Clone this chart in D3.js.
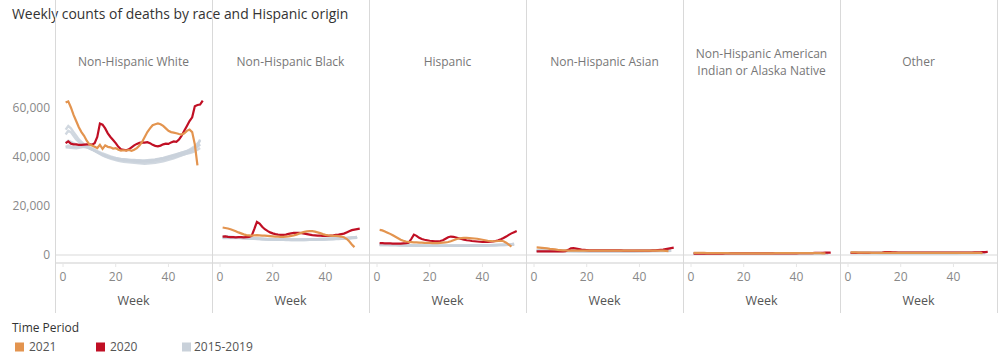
<!DOCTYPE html>
<html>
<head>
<meta charset="utf-8">
<script src="https://cdn.jsdelivr.net/npm/d3@7"></script>
<style>
  body { margin: 0; background: #fff; }
  svg text { font-family: "Open Sans", "Noto Sans", sans-serif; }
</style>
</head>
<body>
<svg width="1000" height="361"></svg>
<script>
// ---- data (weekly death counts) ----
var races = ["Non-Hispanic White", "Non-Hispanic Black", "Hispanic", "Non-Hispanic Asian",
             "Non-Hispanic American Indian or Alaska Native", "Other"];
var periods = ["2021", "2020", "2015-2019"];
var colors = ["#e3944f", "#c00f24", "#c9d1da"];
var yTicks = [0, 20000, 40000, 60000];
var xTicks = [0, 20, 40];

var white21 = [62000,62500,60000,57000,54500,52000,50000,48500,46500,45000,44500,44000,43500,44800,43200,44600,44000,43800,43300,43500,
  42800,42500,42600,42500,42700,42400,42800,43500,44500,46000,48000,50000,51500,52800,53200,53500,53200,52500,51500,50500,
  50000,49800,49500,49200,49000,49500,50500,51000,50000,45000,36500];
var white20 = [45500,46200,45300,45000,45000,44800,44800,44900,45000,45000,44900,45500,48000,53500,53000,51500,49500,48000,46800,45500,
  44000,43000,42800,42600,43000,43800,44600,45200,45600,45800,45700,45900,45500,44800,44400,44200,44500,45000,45300,45200,
  45800,46200,46000,47000,48500,50500,52500,54500,56000,60500,61000,61200,62800];
var whiteBase = [
  [49000,50500,50000,48500,47000,46000,45000,44500,44000,43500,43000,42500,42000,41300,40700,40200,39800,39500,39200,38900,
   38700,38500,38400,38300,38200,38100,38000,37900,37800,37700,37700,37800,37900,38000,38100,38300,38500,38700,38900,39200,
   39400,39700,40000,40300,40600,40900,41200,41500,41800,42200,42800,43500],
  [43800,43700,43600,43500,43400,43600,43800,44000,43800,43500,43000,42400,41800,41300,40800,40300,40000,39700,39400,39200,
   39000,38900,38800,38700,38600,38500,38400,38400,38300,38200,38200,38300,38400,38500,38700,38900,39100,39300,39500,39800,
   40100,40400,40700,41000,41300,41600,42000,42400,42900,43500,44200,45000],
  [45500,46500,46000,45500,45000,44500,44200,44000,43800,43400,42900,42400,41900,41400,40900,40500,40100,39800,39500,39300,
   39100,38900,38800,38700,38600,38500,38500,38400,38400,38300,38300,38400,38500,38600,38700,38900,39100,39300,39600,39900,
   40200,40500,40800,41200,41600,42000,42400,42900,43500,44300,45300,46500],
  [51000,52500,51500,50000,48500,47000,46000,45000,44200,43500,42900,42300,41700,41100,40500,40000,39600,39200,38900,38600,
   38300,38100,37900,37800,37700,37600,37500,37400,37300,37200,37100,37200,37300,37400,37500,37700,37900,38100,38400,38700,
   39000,39300,39700,40100,40500,40900,41300,41700,42300,43100,44000,45000],
  [44000,44500,44200,44000,44000,44200,44500,44500,44300,43900,43400,42900,42300,41800,41300,40900,40500,40100,39800,39500,
   39300,39100,39000,38900,38800,38700,38700,38600,38600,38500,38500,38600,38700,38800,38900,39100,39300,39500,39800,40100,
   40400,40700,41000,41300,41600,41900,42200,42600,43100,43700,44400,47000]
];

var black21 = [11200,11000,10800,10500,10100,9700,9200,8800,8400,8100,8000,7900,8000,8100,8000,7900,7900,7800,7700,7600,
  7500,7500,7400,7400,7500,7600,7800,8000,8300,8700,9100,9400,9600,9700,9700,9500,9200,8900,8500,8200,
  8000,7900,7800,7800,7700,7500,7200,6600,5600,4300,3200];
var black20 = [7500,7600,7400,7300,7300,7200,7300,7300,7200,7300,7400,7800,10500,13500,12800,11500,10500,9800,9200,8800,
  8500,8300,8200,8200,8300,8600,8800,9000,9000,9000,8900,8700,8500,8300,8100,8000,7900,7900,7800,7800,
  7800,7900,8000,8200,8300,8500,8700,9200,9700,10100,10300,10500,10700];
var blackBase = [
  [7300,7400,7300,7200,7100,7000,7000,6900,6900,6800,6800,6700,6600,6500,6500,6400,6400,6300,6300,6300,
   6200,6200,6200,6200,6100,6100,6100,6100,6100,6100,6100,6100,6100,6200,6200,6200,6200,6300,6300,6300,
   6400,6400,6400,6500,6500,6600,6600,6700,6700,6800,6900,7000],
  [6900,6900,6900,6900,6900,6900,7000,7000,6900,6900,6800,6800,6700,6600,6600,6500,6500,6400,6400,6400,
   6300,6300,6300,6300,6300,6200,6200,6200,6200,6200,6200,6200,6300,6300,6300,6300,6400,6400,6400,6500,
   6500,6500,6600,6600,6700,6700,6800,6800,6900,7000,7100,7200],
  [7100,7200,7100,7100,7000,7000,6900,6900,6900,6800,6800,6700,6700,6600,6600,6500,6500,6400,6400,6400,
   6300,6300,6300,6300,6300,6300,6300,6300,6300,6300,6300,6300,6300,6400,6400,6400,6400,6500,6500,6500,
   6600,6600,6600,6700,6700,6800,6800,6900,6900,7000,7100,7200],
  [7400,7600,7500,7400,7300,7200,7100,7000,6900,6900,6800,6700,6700,6600,6500,6500,6400,6400,6300,6300,
   6300,6200,6200,6200,6200,6200,6100,6100,6100,6100,6100,6100,6200,6200,6200,6200,6300,6300,6300,6400,
   6400,6500,6500,6600,6600,6700,6700,6800,6900,7000,7100,7300],
  [7000,7100,7000,7000,7000,7000,7000,7000,6900,6900,6800,6800,6700,6700,6600,6600,6500,6500,6500,6400,
   6400,6400,6300,6300,6300,6300,6300,6300,6300,6300,6300,6300,6300,6400,6400,6400,6400,6500,6500,6500,
   6600,6600,6700,6700,6800,6800,6900,6900,7000,7100,7200,7400]
];

var hisp21 = [10200,10000,9600,9100,8600,8000,7400,6800,6200,5800,5500,5300,5200,5100,5100,5000,5000,4900,4900,4900,
  4800,4800,4800,4900,5000,5100,5300,5600,6000,6400,6700,6900,7000,7000,6900,6800,6700,6600,6400,6200,
  6000,5800,5700,5600,5600,5700,5800,5600,5000,4200,3400];
var hisp20 = [4800,4800,4700,4700,4700,4600,4600,4600,4600,4700,4800,5000,6500,8300,7800,7000,6500,6200,6000,5800,
  5700,5600,5600,5700,6000,6600,7200,7500,7400,7100,6800,6500,6200,6000,5900,5700,5600,5500,5400,5300,
  5300,5300,5400,5500,5700,6000,6400,6900,7500,8200,8800,9300,9800];
var hispBase = [
  [4100,4200,4100,4100,4000,4000,4000,3900,3900,3900,3900,3800,3800,3800,3800,3700,3700,3700,3700,3700,
   3700,3700,3700,3700,3700,3700,3700,3700,3700,3700,3700,3700,3700,3700,3700,3700,3800,3800,3800,3800,
   3800,3800,3900,3900,3900,3900,4000,4000,4000,4100,4100,4200],
  [3900,3900,3900,3900,3900,3900,3900,3900,3900,3800,3800,3800,3800,3800,3800,3800,3700,3700,3700,3700,
   3700,3700,3700,3700,3700,3700,3700,3700,3700,3700,3700,3700,3700,3700,3800,3800,3800,3800,3800,3800,
   3800,3900,3900,3900,3900,4000,4000,4000,4100,4100,4200,4200],
  [4200,4300,4200,4200,4100,4100,4100,4000,4000,4000,3900,3900,3900,3900,3800,3800,3800,3800,3800,3800,
   3800,3800,3800,3800,3800,3800,3800,3800,3800,3800,3800,3800,3800,3800,3800,3800,3900,3900,3900,3900,
   3900,4000,4000,4000,4000,4100,4100,4100,4200,4200,4300,4400],
  [4400,4500,4400,4300,4200,4200,4100,4100,4000,4000,4000,3900,3900,3900,3900,3800,3800,3800,3800,3800,
   3800,3800,3800,3800,3800,3800,3800,3800,3800,3800,3800,3800,3800,3800,3800,3900,3900,3900,3900,3900,
   4000,4000,4000,4000,4100,4100,4100,4200,4200,4300,4400,4500],
  [4100,4100,4100,4100,4100,4100,4100,4100,4000,4000,4000,4000,3900,3900,3900,3900,3900,3800,3800,3800,
   3800,3800,3800,3800,3800,3800,3800,3800,3800,3800,3800,3800,3800,3800,3900,3900,3900,3900,3900,4000,
   4000,4000,4000,4100,4100,4100,4200,4200,4200,4300,4400,4600]
];

var asian21 = [3100,3000,2900,2800,2700,2500,2400,2300,2100,2000,1900,1900,1800,1800,1800,1800,1800,1800,1800,1800,
  1800,1800,1800,1800,1800,1800,1800,1800,1800,1800,1800,1800,1800,1800,1800,1800,1800,1800,1800,1800,
  1800,1800,1800,1800,1800,1800,1800,1800,1800,1700,1600];
var asian20 = [1500,1500,1500,1500,1500,1500,1500,1500,1500,1500,1500,1600,2100,2700,2800,2600,2400,2200,2100,2000,
  1900,1900,1900,1900,1900,1900,1900,1900,1900,1900,1900,1900,1900,1800,1800,1800,1800,1800,1800,1800,
  1800,1800,1800,1800,1900,1900,2000,2100,2200,2400,2600,2800,3000];
var asianBase = [
  [1600,1600,1600,1600,1600,1600,1600,1600,1600,1600,1600,1600,1600,1600,1600,1600,1500,1500,1500,1500,
   1500,1500,1500,1500,1500,1500,1500,1500,1500,1500,1500,1500,1500,1500,1500,1500,1500,1500,1500,1500,
   1500,1500,1500,1500,1600,1600,1600,1600,1600,1600,1600,1700],
  [1600,1600,1600,1600,1600,1600,1600,1600,1600,1600,1600,1600,1600,1600,1600,1600,1600,1600,1500,1500,
   1500,1500,1500,1500,1500,1500,1500,1500,1500,1500,1500,1500,1500,1500,1500,1500,1500,1500,1500,1600,
   1600,1600,1600,1600,1600,1600,1600,1600,1600,1700,1700,1700],
  [1700,1700,1700,1700,1700,1700,1700,1700,1600,1600,1600,1600,1600,1600,1600,1600,1600,1600,1600,1600,
   1600,1600,1600,1600,1600,1600,1600,1600,1600,1600,1600,1600,1600,1600,1600,1600,1600,1600,1600,1600,
   1600,1600,1600,1700,1700,1700,1700,1700,1700,1700,1800,1800],
  [1800,1900,1800,1800,1800,1700,1700,1700,1700,1700,1700,1700,1600,1600,1600,1600,1600,1600,1600,1600,
   1600,1600,1600,1600,1600,1600,1600,1600,1600,1600,1600,1600,1600,1600,1600,1600,1600,1600,1600,1600,
   1600,1700,1700,1700,1700,1700,1700,1700,1800,1800,1800,1900],
  [1700,1700,1700,1700,1700,1700,1700,1700,1700,1700,1700,1700,1700,1700,1600,1600,1600,1600,1600,1600,
   1600,1600,1600,1600,1600,1600,1600,1600,1600,1600,1600,1600,1600,1600,1600,1600,1600,1600,1700,1700,
   1700,1700,1700,1700,1700,1700,1700,1800,1800,1800,1800,1900]
];

var aian21 = [900,900,900,850,850,800,800,800,750,750,750,750,750,750,700,700,700,700,700,700,
  700,700,700,700,700,700,700,700,700,700,700,750,750,750,750,750,750,750,750,750,
  750,750,750,750,750,750,750,750,750,700,650];
var aian20 = [600,600,600,600,600,600,600,600,600,600,600,600,650,700,700,700,650,650,650,650,
  650,650,650,650,650,650,700,700,700,700,700,700,700,700,700,700,700,700,700,700,
  750,750,750,750,800,800,850,850,900,900,950,950,1000];
var aianBase = [
  [600,600,600,600,600,600,600,600,600,600,600,600,600,600,600,600,600,600,600,600,600,600,600,600,600,600,
   600,600,600,600,600,600,600,600,600,600,600,600,600,600,600,600,600,600,600,600,600,600,600,600,600,600],
  [620,620,620,620,620,620,620,620,620,620,620,620,620,620,620,620,620,620,620,620,620,620,620,620,620,620,
   620,620,620,620,620,620,620,620,620,620,620,620,620,620,620,620,620,620,620,620,620,620,620,620,620,640],
  [640,650,640,640,640,630,630,630,630,630,630,630,620,620,620,620,620,620,620,620,620,620,620,620,620,620,
   620,620,620,620,620,620,620,620,620,620,620,620,620,620,620,620,630,630,630,630,630,630,630,640,640,650],
  [660,680,670,660,650,650,640,640,640,640,630,630,630,630,630,630,630,630,630,630,630,630,630,630,630,630,
   630,630,630,630,630,630,630,630,630,630,630,630,630,630,630,630,640,640,640,640,640,650,650,650,660,670],
  [650,650,650,650,650,650,650,650,650,640,640,640,640,640,640,640,640,640,640,640,640,640,640,640,640,640,
   640,640,640,640,640,640,640,640,640,640,640,640,640,640,640,650,650,650,650,650,650,650,660,660,670,680]
];

var other21 = [1100,1100,1050,1000,1000,950,950,950,900,900,900,900,900,900,900,900,900,900,900,900,
  900,900,900,900,900,900,900,900,900,900,900,900,900,900,900,900,900,900,900,900,
  900,900,900,900,900,900,900,900,900,850,800];
var other20 = [850,850,850,850,850,850,850,850,850,850,850,900,1000,1150,1200,1150,1100,1050,1000,1000,
  950,950,950,950,950,950,950,950,950,950,950,950,950,950,950,950,950,950,950,950,
  950,950,950,950,1000,1000,1000,1050,1100,1100,1150,1200,1250];
var otherBase = [
  [800,800,800,800,800,800,800,800,800,800,800,800,800,800,800,800,800,800,800,800,800,800,800,800,800,800,
   800,800,800,800,800,800,800,800,800,800,800,800,800,800,800,800,800,800,800,800,800,800,800,800,800,800],
  [820,820,820,820,820,820,820,820,820,820,820,820,820,820,820,820,820,820,820,820,820,820,820,820,820,820,
   820,820,820,820,820,820,820,820,820,820,820,820,820,820,820,820,820,820,820,820,820,820,820,820,830,840],
  [850,860,850,850,850,840,840,840,840,840,840,830,830,830,830,830,830,830,830,830,830,830,830,830,830,830,
   830,830,830,830,830,830,830,830,830,830,830,830,830,830,830,830,840,840,840,840,840,840,850,850,860,870],
  [880,900,890,880,870,860,860,850,850,850,850,840,840,840,840,840,840,840,840,840,840,840,840,840,840,840,
   840,840,840,840,840,840,840,840,840,840,840,840,840,840,840,840,850,850,850,850,860,860,860,870,880,890],
  [850,850,850,850,850,850,850,850,850,850,850,850,840,840,840,840,840,840,840,840,840,840,840,840,840,840,
   840,840,840,840,840,840,840,840,840,840,840,840,840,840,840,850,850,850,850,850,860,860,860,870,880,900]
];

var series21 = [white21, black21, hisp21, asian21, aian21, other21];
var series20 = [white20, black20, hisp20, asian20, aian20, other20];
var seriesBase = [whiteBase, blackBase, hispBase, asianBase, aianBase, otherBase];

// ---- layout ----
var svg = d3.select("svg"),
    left = 55, panelW = 157,
    top = 32, bottom = 313;

var y = d3.scaleLinear().domain([0, 60000]).range([255, 107.5]);
var x = d3.scaleLinear().domain([0, 55]).range([8, 153]);

var line = d3.line()
    .x(function(d) { return x(d[0]); })
    .y(function(d) { return y(d[1]); })
    .curve(d3.curveLinear);

function toPts(arr) {
  return arr.map(function(v, i) { return [i + 1, v]; });
}

svg.append("text")
    .attr("x", 12).attr("y", 19)
    .attr("fill", "#333")
    .style("font-size", "13.9px")
    .text("Weekly counts of deaths by race and Hispanic origin");

// zero line and x-axis line across all panels
svg.append("line")
    .attr("x1", left).attr("x2", left + panelW * 6)
    .attr("y1", y(0)).attr("y2", y(0))
    .attr("stroke", "#e6e6e6").attr("stroke-width", 1.5);
svg.append("line")
    .attr("x1", left).attr("x2", left + panelW * 6)
    .attr("y1", 263).attr("y2", 263)
    .attr("stroke", "#e6e6e6").attr("stroke-width", 2);

// y axis labels
svg.selectAll(".ylab")
  .data(yTicks)
  .enter().append("text")
    .attr("class", "ylab")
    .attr("x", 50).attr("y", function(d) { return y(d); })
    .attr("dy", "0.35em")
    .attr("text-anchor", "end")
    .attr("fill", "#888")
    .style("font-size", "12px")
    .text(function(d) { return d3.format(",")(d); });

// panel borders
for (var b = 0; b <= 6; b++) {
  svg.append("line")
      .attr("x1", left + b * panelW + 0.5).attr("x2", left + b * panelW + 0.5)
      .attr("y1", top).attr("y2", bottom)
      .attr("stroke", "#d9d9d9");
}

races.forEach(function(race, p) {
  var g = svg.append("g").attr("transform", "translate(" + (left + p * panelW) + ",0)");

  // header
  var words = race === "Non-Hispanic American Indian or Alaska Native"
      ? ["Non-Hispanic American", "Indian or Alaska Native"] : [race];
  g.selectAll(".hdr")
    .data(words)
    .enter().append("text")
      .attr("x", panelW / 2)
      .attr("y", function(d, i) { return 62 - (words.length - 1) * 8.5 + i * 17; })
      .attr("dy", "0.35em")
      .attr("text-anchor", "middle")
      .attr("fill", "#777")
      .style("font-size", "12px")
      .text(function(d) { return d; });

  // x axis
  g.selectAll(".xt")
    .data(xTicks)
    .enter().append("line")
      .attr("x1", function(d) { return x(d); }).attr("x2", function(d) { return x(d); })
      .attr("y1", 264).attr("y2", 267)
      .attr("stroke", "#e6e6e6");
  g.selectAll(".xl")
    .data(xTicks)
    .enter().append("text")
      .attr("x", function(d) { return x(d); })
      .attr("y", 277)
      .attr("dy", "0.35em")
      .attr("text-anchor", "middle")
      .attr("fill", "#888")
      .style("font-size", "12px")
      .text(function(d) { return d; });
  g.append("text")
      .attr("x", panelW / 2).attr("y", 301)
      .attr("dy", "0.35em")
      .attr("text-anchor", "middle")
      .attr("fill", "#555")
      .style("font-size", "12.5px")
      .text("Week");

  // lines: baseline years, then 2020, then 2021
  seriesBase[p].forEach(function(s) {
    g.append("path")
        .attr("d", line(toPts(s)))
        .attr("fill", "none")
        .attr("stroke", colors[2])
        .attr("stroke-width", 2.4)
        .attr("stroke-opacity", 0.85);
  });
  g.append("path")
      .attr("d", line(toPts(series20[p])))
      .attr("fill", "none")
      .attr("stroke", colors[1])
      .attr("stroke-width", 2.2);
  g.append("path")
      .attr("d", line(toPts(series21[p])))
      .attr("fill", "none")
      .attr("stroke", colors[0])
      .attr("stroke-width", 2.2);
});

// legend
svg.append("text")
    .attr("x", 12).attr("y", 328)
    .attr("dy", "0.35em")
    .attr("fill", "#333")
    .style("font-size", "12px")
    .text("Time Period");
var legX = [15, 96, 182];
var leg = svg.selectAll(".leg")
  .data(periods)
  .enter().append("g")
    .attr("transform", function(d, i) { return "translate(" + legX[i] + ",347)"; });
leg.append("rect")
    .attr("x", 0).attr("y", -4.5)
    .attr("width", 9).attr("height", 9)
    .attr("fill", function(d, i) { return colors[i]; });
leg.append("text")
    .attr("x", function(d, i) { return i === 2 ? 12 : 14; }).attr("y", 0)
    .attr("dy", "0.35em")
    .attr("fill", "#555")
    .style("font-size", "12px")
    .text(function(d) { return d; });
</script>
</body>
</html>
